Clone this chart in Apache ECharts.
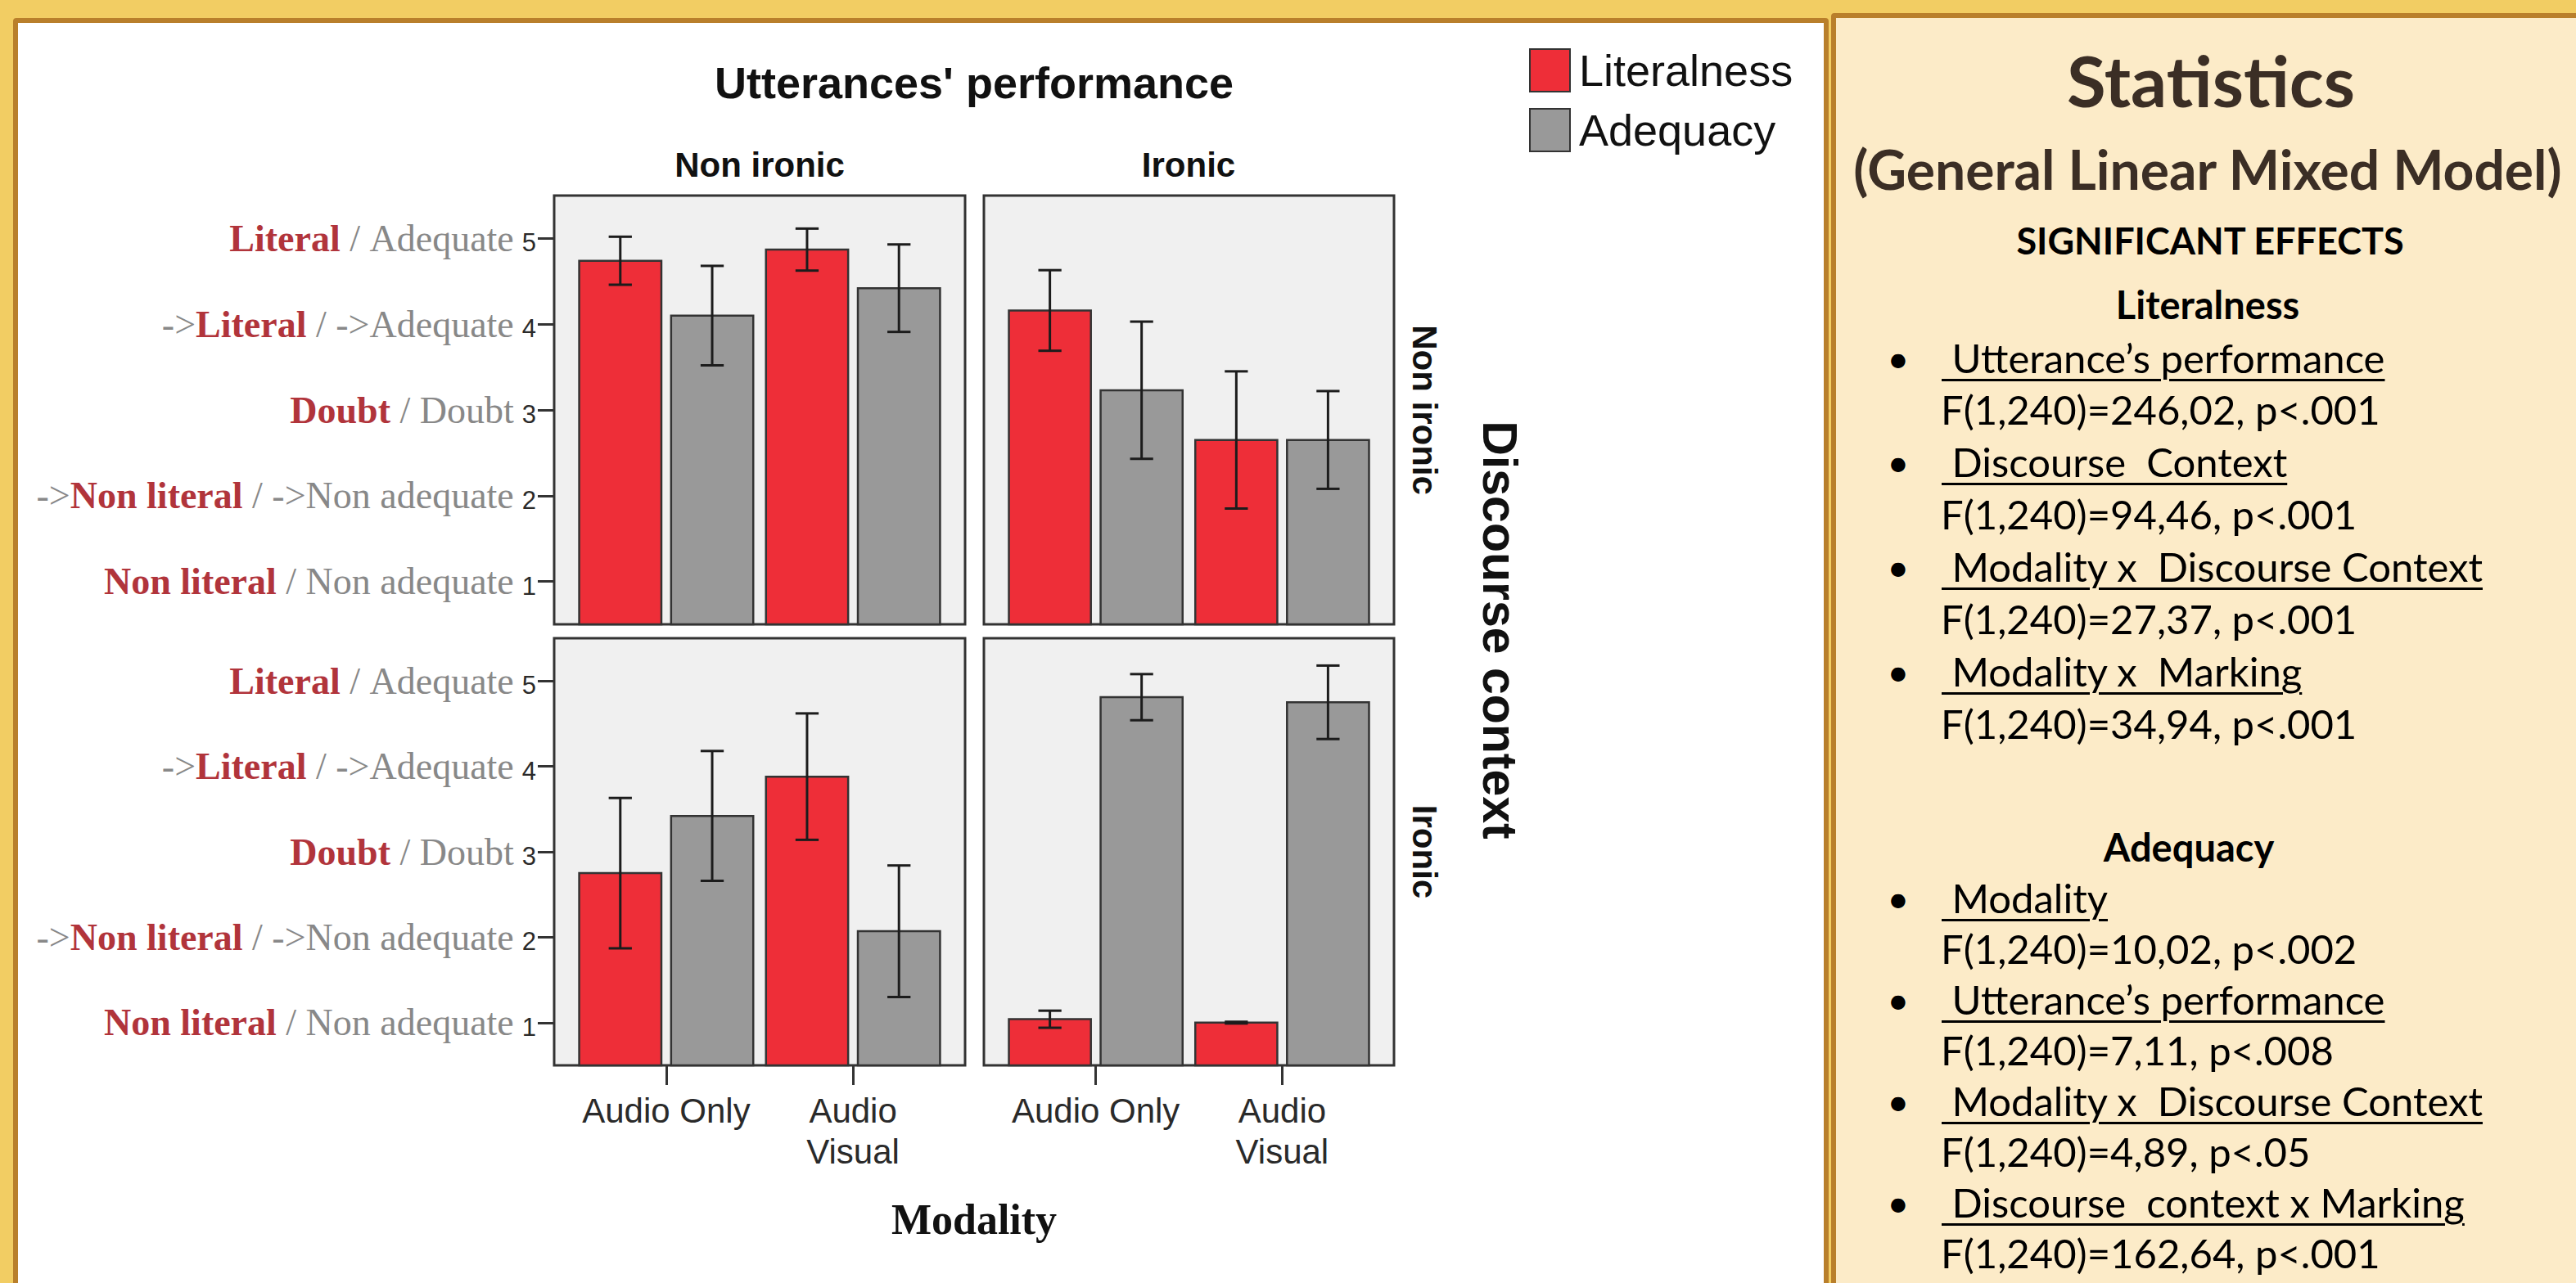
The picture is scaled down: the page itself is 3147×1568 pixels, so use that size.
<!DOCTYPE html>
<html>
<head>
<meta charset="utf-8">
<script src="https://cdn.jsdelivr.net/npm/echarts@6/dist/echarts.min.js"></script>
<style>
html, body { margin:0; padding:0; width:3147px; height:1568px; overflow:hidden; background:#F2CD63; }
#white { position:absolute; left:16px; top:22px; width:2206px; height:1600px; background:#fff; border:6px solid #B97F2B; border-radius:4px; }
#cream { position:absolute; left:2237px; top:16px; width:1000px; height:1600px; background:#FCEBC8; border:6px solid #B97F2B; border-radius:4px; }
#chart { position:absolute; left:0; top:0; width:2230px; height:1568px; }
#stats { position:absolute; left:0; top:0; width:3147px; height:1568px; pointer-events:none; }
.ln { position:absolute; white-space:pre; font-family:Lato, 'Open Sans', sans-serif; color:#000; }
.u { text-decoration:underline; text-decoration-thickness:3px; text-underline-offset:7px; }
</style>
</head>
<body>
<div id="white"></div>
<div id="cream"></div>
<div id="chart"></div>
<div id="stats"></div>
<script>
// ---------------- DATA ----------------
const categories = ['Audio Only', 'Audio\nVisual'];
const modalityPos = [1, 2];
const utteranceLevels = ['Non ironic', 'Ironic'];
const contextLevels = ['Non ironic', 'Ironic'];
const yTicks = [1, 2, 3, 4, 5];
const literalTickLabels = ['Non literal', '->Non literal', 'Doubt', '->Literal', 'Literal'];
const adequacyTickLabels = ['Non adequate', '->Non adequate', 'Doubt', '->Adequate', 'Adequate'];

// context Non ironic, utterance Non ironic
const literalCtxNonUttNon = [4.74, 4.87];
const literalCtxNonUttNonErr = [0.28, 0.245];
const adequacyCtxNonUttNon = [4.10, 4.42];
const adequacyCtxNonUttNonErr = [0.58, 0.51];
// context Non ironic, utterance Ironic
const literalCtxNonUttIro = [4.16, 2.65];
const literalCtxNonUttIroErr = [0.47, 0.80];
const adequacyCtxNonUttIro = [3.23, 2.65];
const adequacyCtxNonUttIroErr = [0.80, 0.57];
// context Ironic, utterance Non ironic
const literalCtxIroUttNon = [2.75, 3.88];
const literalCtxIroUttNonErr = [0.88, 0.74];
const adequacyCtxIroUttNon = [3.42, 2.07];
const adequacyCtxIroUttNonErr = [0.76, 0.77];
// context Ironic, utterance Ironic
const literalCtxIroUttIro = [1.04, 1.00];
const literalCtxIroUttIroErr = [0.10, 0.01];
const adequacyCtxIroUttIro = [4.81, 4.75];
const adequacyCtxIroUttIroErr = [0.27, 0.43];

// Statistics panel text
const statsTitle = 'Statistics';
const statsSubtitle = '(General Linear Mixed Model)';
const statsHeading = 'SIGNIFICANT EFFECTS';
const literalnessHeading = 'Literalness';
const adequacyHeading = 'Adequacy';
const literalnessEffects = [
  ['Utterance\u2019s performance', 'F(1,240)=246,02, p<.001'],
  ['Discourse  Context', 'F(1,240)=94,46, p<.001'],
  ['Modality x  Discourse Context', 'F(1,240)=27,37, p<.001'],
  ['Modality x  Marking', 'F(1,240)=34,94, p<.001']
];
const adequacyEffects = [
  ['Modality', 'F(1,240)=10,02, p<.002'],
  ['Utterance\u2019s performance', 'F(1,240)=7,11, p<.008'],
  ['Modality x  Discourse Context', 'F(1,240)=4,89, p<.05'],
  ['Discourse  context x Marking', 'F(1,240)=162,64, p<.001']
];

// ---------------- STYLE / LAYOUT ----------------
const RED = '#EE2E38', GREY = '#999999';
const Y_MIN = 0.5, Y_MAX = 5.5, X_MIN = 0.4, X_MAX = 2.6;
const BAR_OFFSET = 0.246, BAR_HALF = 0.22, CAP_HALF = 0.062;
const gridsLayout = [
  {left: 677, top: 239, width: 502, height: 524},
  {left: 1202, top: 239, width: 501, height: 524},
  {left: 677, top: 780, width: 502, height: 522},
  {left: 1202, top: 780, width: 501, height: 522}
];
const panels = [
  {lit: literalCtxNonUttNon, litErr: literalCtxNonUttNonErr, adq: adequacyCtxNonUttNon, adqErr: adequacyCtxNonUttNonErr},
  {lit: literalCtxNonUttIro, litErr: literalCtxNonUttIroErr, adq: adequacyCtxNonUttIro, adqErr: adequacyCtxNonUttIroErr},
  {lit: literalCtxIroUttNon, litErr: literalCtxIroUttNonErr, adq: adequacyCtxIroUttNon, adqErr: adequacyCtxIroUttNonErr},
  {lit: literalCtxIroUttIro, litErr: literalCtxIroUttIroErr, adq: adequacyCtxIroUttIro, adqErr: adequacyCtxIroUttIroErr}
];

function makeRender(side) {
  return function (params, api) {
    const x = api.value(0), v = api.value(1), e = api.value(2);
    const c = x + side * BAR_OFFSET;
    const tl = api.coord([c - BAR_HALF, v]);
    const br = api.coord([c + BAR_HALF, Y_MIN]);
    const top = api.coord([c, v + e]);
    const bot = api.coord([c, v - e]);
    const cap = api.size([CAP_HALF, 0])[0];
    const es = {stroke: '#1c1c1c', lineWidth: 3};
    return {
      type: 'group',
      children: [
        {type: 'rect', shape: {x: tl[0], y: tl[1], width: br[0] - tl[0], height: br[1] - tl[1]},
          style: {fill: api.visual('color'), stroke: '#333', lineWidth: 2.5}},
        {type: 'line', shape: {x1: top[0], y1: top[1], x2: bot[0], y2: bot[1]}, style: es},
        {type: 'line', shape: {x1: top[0] - cap, y1: top[1], x2: top[0] + cap, y2: top[1]}, style: es},
        {type: 'line', shape: {x1: bot[0] - cap, y1: bot[1], x2: bot[0] + cap, y2: bot[1]}, style: es}
      ]
    };
  };
}

function richPart(label, style) {
  if (label.indexOf('->') === 0) return '{g|->}{' + style + '|' + label.slice(2) + '}';
  return '{' + style + '|' + label + '}';
}

const grids = [], xAxes = [], yAxes = [], series = [];
gridsLayout.forEach(function (g, i) {
  const isBottom = i >= 2, isLeft = i % 2 === 0;
  grids.push(Object.assign({show: true, backgroundColor: '#F0F0F0', borderColor: '#333', borderWidth: 3,
    containLabel: false, outerBoundsMode: 'none'}, g));
  xAxes.push({
    gridIndex: i, type: 'value', min: X_MIN, max: X_MAX,
    axisLine: {show: false}, splitLine: {show: false},
    axisTick: {show: isBottom, customValues: modalityPos, length: 24, lineStyle: {color: '#333', width: 3}},
    axisLabel: {show: isBottom, customValues: modalityPos, margin: 30,
      formatter: function (v) { return categories[modalityPos.indexOf(v)]; },
      fontFamily: 'Liberation Sans', fontSize: 42, lineHeight: 50, color: '#2a2a2a'}
  });
  yAxes.push({
    gridIndex: i, type: 'value', min: Y_MIN, max: Y_MAX,
    axisLine: {show: false}, splitLine: {show: false},
    axisTick: {show: isLeft, customValues: yTicks, length: 20, lineStyle: {color: '#333', width: 3}},
    axisLabel: {show: isLeft, customValues: yTicks, margin: 22,
      formatter: function (v) {
        const k = yTicks.indexOf(v);
        return richPart(literalTickLabels[k], 'r') + '{g| / }' + richPart(adequacyTickLabels[k], 'g') + '{n|' + v + '}';
      },
      rich: {
        r: {fontFamily: 'Liberation Serif', fontWeight: 'bold', fontSize: 46, color: '#B1343B', verticalAlign: 'bottom'},
        g: {fontFamily: 'Liberation Serif', fontSize: 46, color: '#888888', verticalAlign: 'bottom'},
        n: {fontFamily: 'Liberation Sans', fontSize: 31, color: '#2a2a2a', padding: [0, 0, 2, 10], verticalAlign: 'bottom'}
      }
    }
  });
  const p = panels[i];
  series.push({
    type: 'custom', name: 'Literalness', xAxisIndex: i, yAxisIndex: i,
    itemStyle: {color: RED}, encode: {x: 0, y: 1},
    data: modalityPos.map(function (m, k) { return [m, p.lit[k], p.litErr[k]]; }),
    renderItem: makeRender(-1)
  });
  series.push({
    type: 'custom', name: 'Adequacy', xAxisIndex: i, yAxisIndex: i,
    itemStyle: {color: GREY}, encode: {x: 0, y: 1},
    data: modalityPos.map(function (m, k) { return [m, p.adq[k], p.adqErr[k]]; }),
    renderItem: makeRender(1)
  });
});

const boldSans = function (size) { return 'bold ' + size + 'px "Liberation Sans", Arial, sans-serif'; };
const graphics = [
  {type: 'text', x: 1190, y: 101, style: {text: "Utterances' performance", font: boldSans(54), fill: '#111', textAlign: 'center', textVerticalAlign: 'middle'}},
  {type: 'text', x: 928, y: 201, style: {text: utteranceLevels[0], font: boldSans(42), fill: '#111', textAlign: 'center', textVerticalAlign: 'middle'}},
  {type: 'text', x: 1452, y: 201, style: {text: utteranceLevels[1], font: boldSans(42), fill: '#111', textAlign: 'center', textVerticalAlign: 'middle'}},
  {type: 'text', x: 1740, y: 501, rotation: -Math.PI / 2, style: {text: contextLevels[0], font: boldSans(42), fill: '#111', textAlign: 'center', textVerticalAlign: 'middle'}},
  {type: 'text', x: 1740, y: 1041, rotation: -Math.PI / 2, style: {text: contextLevels[1], font: boldSans(42), fill: '#111', textAlign: 'center', textVerticalAlign: 'middle'}},
  {type: 'text', x: 1832, y: 770, rotation: -Math.PI / 2, style: {text: 'Discourse context', font: boldSans(59), fill: '#111', textAlign: 'center', textVerticalAlign: 'middle'}},
  {type: 'text', x: 1190, y: 1490, style: {text: 'Modality', font: 'bold 52px "Liberation Serif", "Times New Roman", serif', fill: '#111', textAlign: 'center', textVerticalAlign: 'middle'}}
];

const chart = echarts.init(document.getElementById('chart'), null, {renderer: 'svg'});
chart.setOption({
  animation: false,
  backgroundColor: 'transparent',
  textStyle: {fontFamily: 'Liberation Sans'},
  legend: {
    data: ['Literalness', 'Adequacy'], orient: 'vertical', left: 1868, top: 59, padding: 0,
    icon: 'rect', itemWidth: 49, itemHeight: 52, itemGap: 19,
    itemStyle: {borderColor: '#333', borderWidth: 2},
    textStyle: {fontFamily: 'Liberation Sans', fontSize: 54, color: '#111', padding: [0, 0, 0, 6]},
    selectedMode: false
  },
  grid: grids, xAxis: xAxes, yAxis: yAxes, series: series, graphic: graphics
});

// ---------------- STATISTICS PANEL ----------------
const stats = document.getElementById('stats');
function addLine(text, opts) {
  const d = document.createElement('div');
  d.className = 'ln' + (opts.u ? ' u' : '');
  d.textContent = text;
  const L = 90, F = opts.size;
  d.style.fontSize = F + 'px';
  d.style.lineHeight = L + 'px';
  d.style.top = (opts.y - L / 2 - 0.03 * F) + 'px';
  d.style.fontWeight = opts.bold ? '700' : '400';
  if (opts.color) d.style.color = opts.color;
  if (opts.center !== undefined) {
    d.style.left = (opts.center - 700) + 'px';
    d.style.width = '1400px';
    d.style.textAlign = 'center';
  } else {
    d.style.left = opts.x + 'px';
  }
  stats.appendChild(d);
}
addLine(statsTitle, {y: 101, size: 87, bold: true, center: 2701, color: '#3B2E25'});
addLine(statsSubtitle, {y: 209, size: 66, bold: true, center: 2697, color: '#3B2E25'});
addLine(statsHeading, {y: 295, size: 45, bold: true, center: 2700});
addLine(literalnessHeading, {y: 373, size: 47, bold: true, center: 2697});
function addEffects(list, y0, step) {
  list.forEach(function (eff, k) {
    const y1 = y0 + k * 2 * step, y2 = y1 + step;
    addLine('\u2022', {y: y1, size: 47, center: 2319});
    addLine(' ' + eff[0], {y: y1, size: 49, x: 2372, u: true});
    addLine(eff[1], {y: y2, size: 49, x: 2371});
  });
}
addEffects(literalnessEffects, 438, 63.9);
addLine(adequacyHeading, {y: 1036, size: 47, bold: true, center: 2674});
addEffects(adequacyEffects, 1098, 62);
</script>
</body>
</html>
